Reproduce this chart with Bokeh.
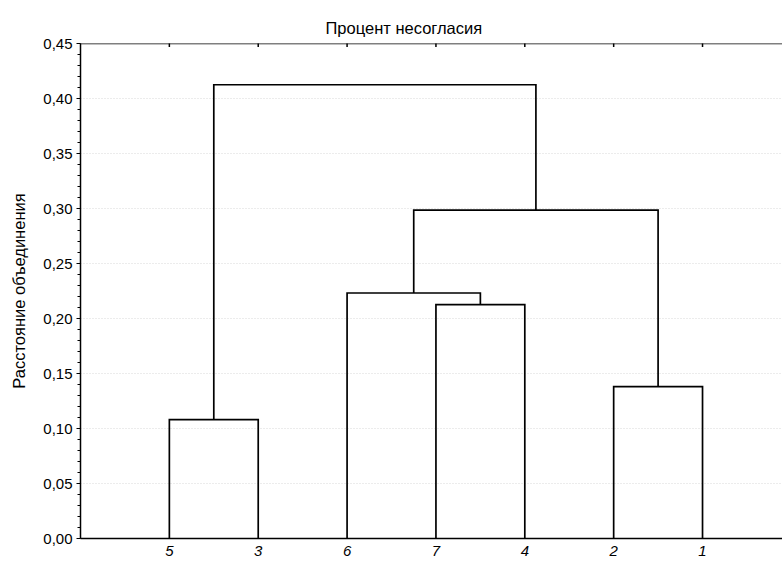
import math
from bokeh.plotting import figure
from bokeh.models import Range1d, FixedTicker, LinearAxis, Title, Span
from bokeh.embed import file_html
from bokeh.resources import INLINE

# ---- data ----
title_text = "Процент несогласия"
y_label = "Расстояние объединения"
leaf_labels = ["5", "3", "6", "7", "4", "2", "1"]
leaf_positions = [1, 2, 3, 4, 5, 6, 7]
# merges (scipy-like): node ids 0..6 are leaves, 7.. are clusters in merge order
merge_a = [0, 3, 5, 2, 10, 7]
merge_b = [1, 4, 6, 8, 9, 11]
merge_h = [0.108, 0.2127, 0.138, 0.2232, 0.2985, 0.4125]
y_ticks = [0.00, 0.05, 0.10, 0.15, 0.20, 0.25, 0.30, 0.35, 0.40, 0.45]
y_tick_labels = ["0,00", "0,05", "0,10", "0,15", "0,20", "0,25", "0,30", "0,35", "0,40", "0,45"]
y_minor = [i / 100 for i in range(0, 46)]
y_max = 0.45

FONT = "Liberation Sans"

# ---- build dendrogram paths ----
node_x = {i: float(x) for i, x in enumerate(leaf_positions)}
node_h = {i: 0.0 for i in range(len(leaf_positions))}
xs, ys = [], []
n = len(leaf_positions)
for k, (a, b, h) in enumerate(zip(merge_a, merge_b, merge_h)):
    xa, xb = node_x[a], node_x[b]
    xs.append([xa, xa, xb, xb])
    ys.append([node_h[a], h, h, node_h[b]])
    node_x[n + k] = (xa + xb) / 2
    node_h[n + k] = h

p = figure(width=782, height=562, output_backend="svg", toolbar_location=None,
           x_range=Range1d(0, 7.9), y_range=Range1d(0, y_max),
           x_axis_location=None, y_axis_location=None,
           min_border_left=80, min_border_right=0, min_border_top=43, min_border_bottom=24)
p.outline_line_color = None
p.background_fill_color = "white"
p.border_fill_color = "white"

p.title = Title(text=title_text, align="left", offset=245, standoff=14,
                text_font=FONT, text_font_size="16.5px", text_font_style="normal",
                text_color="black")

# left axis
yax = LinearAxis(ticker=FixedTicker(ticks=y_ticks, minor_ticks=y_minor),
                 major_label_overrides=dict(zip(y_ticks, y_tick_labels)),
                 axis_label=y_label)
yax.axis_line_color = "black"
yax.axis_line_width = 1.5
yax.major_tick_out = 4
yax.major_tick_in = 0
yax.minor_tick_out = 3
yax.minor_tick_in = 0
yax.major_tick_line_color = "black"
yax.minor_tick_line_color = "black"
yax.major_label_text_font = FONT
yax.major_label_text_font_size = "15px"
yax.major_label_text_color = "black"
yax.major_label_standoff = 4
yax.axis_label_text_font = FONT
yax.axis_label_text_font_size = "16.5px"
yax.axis_label_text_font_style = "normal"
yax.axis_label_text_color = "black"
yax.axis_label_standoff = 12
p.add_layout(yax, "left")

# bottom axis
xax = LinearAxis(ticker=FixedTicker(ticks=leaf_positions, minor_ticks=[]),
                 major_label_overrides=dict(zip(leaf_positions, leaf_labels)))
xax.axis_line_color = "black"
xax.axis_line_width = 1.5
xax.major_tick_out = 0
xax.major_tick_in = 0
xax.minor_tick_out = 0
xax.minor_tick_in = 0
xax.major_label_text_font = FONT
xax.major_label_text_font_size = "15px"
xax.major_label_text_font_style = "italic"
xax.major_label_text_color = "black"
xax.major_label_standoff = 7
p.add_layout(xax, "below")

# top frame line with inward ticks at leaf positions
p.add_layout(Span(location=y_max, dimension="width", line_color="black", line_width=1.5))
p.scatter(x=leaf_positions, y=[y_max] * len(leaf_positions), marker="dash",
          angle=math.pi / 2, size=7, line_color="black", line_width=1.5)

# grid
p.ygrid.ticker = FixedTicker(ticks=y_ticks)
p.ygrid.grid_line_color = "#d9d9d9"
p.ygrid.grid_line_dash = "1 2"
p.ygrid.grid_line_width = 1
p.xgrid.grid_line_color = None

p.multi_line(xs, ys, line_color="black", line_width=1.7, line_join="miter")

open("out.html", "w").write(file_html(p, INLINE))
